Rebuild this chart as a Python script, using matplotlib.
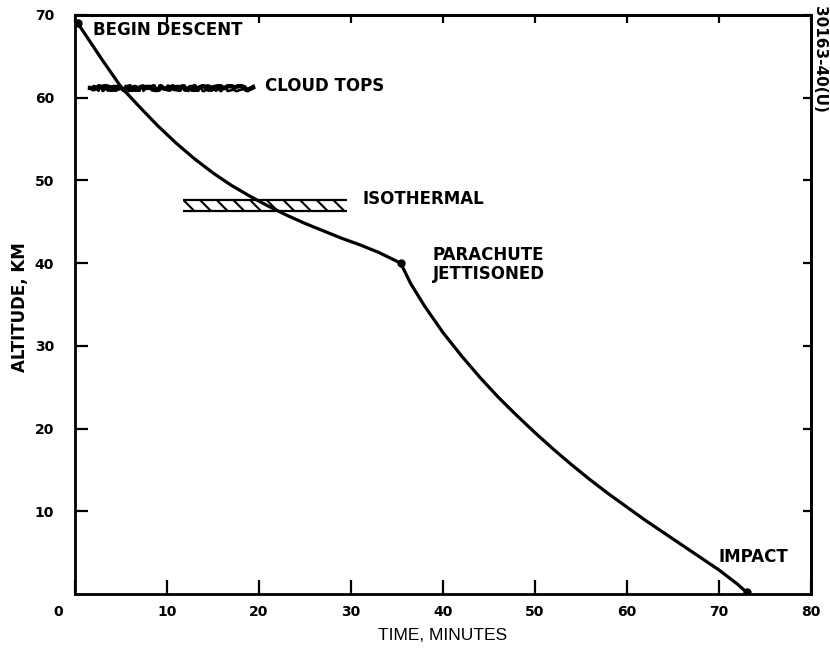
import numpy as np
import matplotlib
matplotlib.use("Agg")
import matplotlib.pyplot as plt
import matplotlib.transforms as mtransforms
from matplotlib.patches import Rectangle

plt.rcParams["font.family"] = ["DejaVu Sans"]
plt.rcParams["hatch.linewidth"] = 1.5

# descent profile (time in minutes, altitude in km)
t_para = [0.3, 1.5, 3, 5, 7, 9, 11, 13, 15, 17, 19, 21, 23, 25, 27, 29, 31, 33, 35.4]
alt_para = [69.0, 67.0, 64.5, 61.3, 58.9, 56.6, 54.5, 52.6, 50.9, 49.4, 48.1, 46.9,
            45.8, 44.8, 43.9, 43.0, 42.2, 41.3, 40.0]
t_free = [35.4, 36.5, 38, 40, 42, 44, 46, 48, 50, 52, 54, 56, 58, 60, 62, 64, 66,
          68, 70, 72, 73.0]
alt_free = [40.0, 37.5, 34.8, 31.6, 28.8, 26.2, 23.8, 21.6, 19.5, 17.5, 15.6, 13.8,
            12.1, 10.5, 8.9, 7.4, 5.9, 4.4, 2.9, 1.2, 0.2]

# layer markers
cloud_t = [1.6, 19.3]
cloud_alt = [61.2, 61.2]
iso_t = [11.7, 29.6]
iso_alt = [46.3, 47.6]

xticks = [0, 10, 20, 30, 40, 50, 60, 70, 80]
yticks = [10, 20, 30, 40, 50, 60, 70]

fig = plt.figure(figsize=(8.3, 6.52), dpi=100)
ax = fig.add_axes([0.0904, 0.089, 0.8867, 0.888])

ax.plot(t_para + t_free[1:], alt_para + alt_free[1:], color="black", lw=2.3,
        solid_joinstyle="round")
ax.plot([t_para[0], t_free[0], t_free[-1]], [alt_para[0], alt_free[0], alt_free[-1]],
        "o", color="black", ms=5)

# cloud tops: ragged line
cl, = ax.plot(cloud_t, cloud_alt, color="black", lw=3.2)
cl.set_sketch_params(scale=1.8, length=14, randomness=12)
cl2, = ax.plot(cloud_t, cloud_alt, color="black", lw=1.8)
cl2.set_sketch_params(scale=2.6, length=9, randomness=20)

# isothermal band
ax.add_patch(Rectangle((iso_t[0], iso_alt[0]), iso_t[1] - iso_t[0], iso_alt[1] - iso_alt[0],
                       facecolor="none", edgecolor="black", lw=0, hatch="\\\\"))
ax.hlines(iso_alt, iso_t[0], iso_t[1], color="black", lw=1.6)

fs = 12
kw = dict(fontsize=fs, weight="bold", va="center")
ax.text(1.9, 68.2, "BEGIN DESCENT", **kw)
ax.text(20.6, 61.4, "CLOUD TOPS", **kw)
ax.text(31.3, 47.8, "ISOTHERMAL", **kw)
ax.text(38.9, 41.0, "PARACHUTE", **kw)
ax.text(38.9, 38.7, "JETTISONED", **kw)
ax.text(69.9, 4.5, "IMPACT", **kw)

ax.set_xlim(0, 80)
ax.set_ylim(0, 70)
ax.set_xticks(xticks)
ax.set_yticks(yticks)
ax.tick_params(direction="in", width=1.6, labelsize=10)
ax.tick_params(axis="x", length=10, pad=8)
ax.tick_params(axis="y", length=9, pad=15)
for lab in ax.get_xticklabels() + ax.get_yticklabels():
    lab.set_fontweight("bold")
# the shared origin label sits left of the corner
zero = ax.get_xticklabels()[0]
zero.set_transform(zero.get_transform() +
                   mtransforms.ScaledTranslation(-0.17, 0, fig.dpi_scale_trans))

top = ax.secondary_xaxis("top")
top.set_xticks(xticks)
top.tick_params(direction="in", length=6, width=1.6, labeltop=False)
right = ax.secondary_yaxis("right")
right.set_yticks(yticks)
right.tick_params(direction="in", length=6, width=1.6, labelright=False)

for a in (ax, top, right):
    for s in a.spines.values():
        s.set_linewidth(2)

fig.text(443 / 830, 1 - 636 / 652, "TIME, MINUTES", fontsize=12.5,
         family="Liberation Sans", ha="center", va="center")
fig.text(20 / 830, 1 - 307 / 652, "ALTITUDE, KM", fontsize=12, weight="bold",
         rotation=90, ha="center", va="center")
fig.text(819 / 830, 1 - 6 / 652, "30163-40(U)", rotation=-90, fontsize=11,
         weight="bold", ha="center", va="top")

fig.savefig("out.png", dpi=100)
